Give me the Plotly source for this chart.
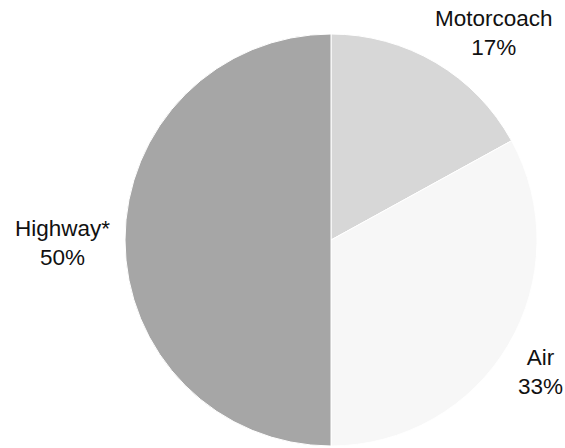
import plotly.graph_objects as go

# Share of trips by mode
modes = ["Motorcoach", "Air", "Highway*"]
shares = [17, 33, 50]
slice_colors = ["#D7D7D7", "#F7F7F7", "#A6A6A6"]

W, H = 565, 448

# Label anchor points (pixels from top-left)
label_pos = {
    "Motorcoach": (494, 33),
    "Air": (540, 372),
    "Highway*": (62, 243),
}

fig = go.Figure(
    go.Pie(
        labels=modes,
        values=shares,
        sort=False,
        direction="clockwise",
        rotation=0,
        textinfo="none",
        hoverinfo="label+percent",
        marker=dict(colors=slice_colors, line=dict(color="white", width=1)),
        domain=dict(x=[125 / W, 537 / W], y=[2 / H, 414 / H]),
        showlegend=False,
    )
)

for name, val in zip(modes, shares):
    px, py = label_pos[name]
    fig.add_annotation(
        x=px / W,
        y=1 - py / H,
        xref="paper",
        yref="paper",
        text=f"{name}<br>{val}%",
        showarrow=False,
        xanchor="center",
        yanchor="middle",
        align="center",
        font=dict(family="Liberation Sans, Arial", size=22.5, color="#111111"),
    )

fig.update_layout(
    width=W,
    height=H,
    margin=dict(l=0, r=0, t=0, b=0),
    paper_bgcolor="white",
    plot_bgcolor="white",
)

fig.write_html("out.html")
